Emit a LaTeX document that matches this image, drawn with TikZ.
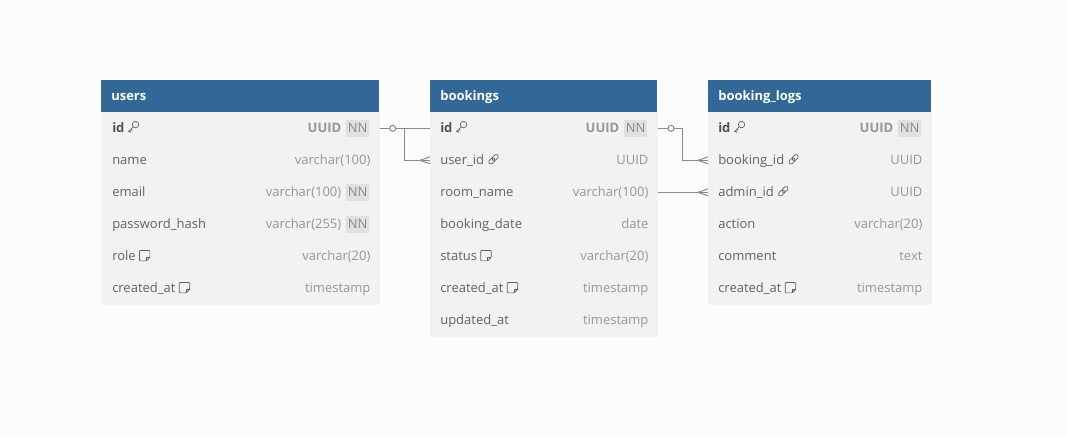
\documentclass[tikz,border=0pt]{standalone}
\usepackage{fontspec}
\setmainfont{Open Sans}
\usetikzlibrary{positioning}

\definecolor{pagebg}{RGB}{252,252,252}
\definecolor{headblue}{RGB}{49,104,151}
\definecolor{rowgray}{RGB}{242,242,242}
\definecolor{rowline}{RGB}{245,245,245}
\definecolor{namegray}{RGB}{98,98,98}
\definecolor{pkgray}{RGB}{80,80,80}
\definecolor{typegray}{RGB}{150,150,150}
\definecolor{badgegray}{RGB}{225,225,225}
\definecolor{nngray}{RGB}{135,135,135}
\definecolor{relgray}{RGB}{135,138,148}

% small column icons
\newcommand{\keyicon}{\hspace{2.5pt}\tikz[x=1.2pt,y=1.2pt,baseline=0pt]{
    \draw[namegray,line width=0.55pt] (5.2,5.2) circle (2.4pt);
    \draw[namegray,line width=0.55pt] (3.8,3.8) -- (0.6,0.6) (1.3,1.3) -- (2.3,0.3) (2.3,2.3) -- (3.1,1.5);}}
\newcommand{\linkicon}{\hspace{2.5pt}\tikz[x=1.2pt,y=1.2pt,baseline=0pt]{
    \begin{scope}[shift={(0.9,0.9)},rotate=45]
    \draw[namegray,line width=0.55pt,rounded corners=1.3pt] (0,-1.3) rectangle (4.4,1.3);
    \draw[namegray,line width=0.55pt,rounded corners=1.3pt] (3,-1.3) rectangle (7.4,1.3);
    \end{scope}}}
\newcommand{\noteicon}{\hspace{2.5pt}\tikz[x=1.15pt,y=1.15pt,baseline=0pt]{
    \draw[namegray,line width=0.55pt,rounded corners=0.6pt] (0,0) -- (0,6.8) -- (6.8,6.8) -- (6.8,2.3) -- (4.5,0) -- cycle;
    \draw[namegray,line width=0.55pt] (6.8,2.3) -- (4.5,2.3) -- (4.5,0);}}
\newcommand{\pkname}[1]{\textcolor{pkgray}{\bfseries #1}}

% crow's foot at a table edge
\newcommand{\crowfoot}[1]{
    \draw[rel] ([xshift=-7.5pt]#1) -- ([yshift=2.6pt]#1)
               ([xshift=-7.5pt]#1) -- ([yshift=-2.6pt]#1);}

\tikzset{
    headbox/.style={fill=headblue, minimum height=24pt, inner sep=0pt, anchor=north west},
    headtext/.style={anchor=base west, inner sep=0pt, text=white,
        font=\fontsize{9.75}{12}\selectfont\bfseries},
    rowcell/.style={fill=rowgray, draw=rowline, line width=0.5pt, minimum height=24pt,
        inner sep=0pt, anchor=north west},
    colname/.style={anchor=base west, inner sep=0pt, text=namegray,
        font=\fontsize{9.75}{12}\selectfont},
    coltype/.style={anchor=base east, inner sep=0pt, text=typegray,
        font=\fontsize{9.75}{12}\selectfont},
    nnbadge/.style={fill=badgegray, text=nngray, inner xsep=1.5pt, inner ysep=0pt,
        minimum height=12.75pt, anchor=east, font=\fontsize{9.75}{12}\selectfont},
    rel/.style={draw=relgray, line width=0.75pt},
    zeromark/.style={circle, draw=relgray, fill=pagebg, line width=0.75pt,
        inner sep=0pt, minimum size=4.5pt}
}

\begin{document}
\begin{tikzpicture}[x=0.75pt, y=-0.75pt]

    \useasboundingbox[fill=pagebg] (0,0) rectangle (1066,437);

    % users table
    \node[headbox, minimum width=208.5pt] (users) at (101,80) {};
    \node[headtext] at ([xshift=7.5pt, yshift=-3.4pt]users.west) {users};
    \foreach \n/\t/\nn [count=\i] in {{\pkname{id}\keyicon}/{\textbf{UUID}}/1,
            name/varchar(100)/0, email/varchar(100)/1, password\_hash/varchar(255)/1,
            {role\noteicon}/varchar(20)/0, {created\_at\noteicon}/timestamp/0} {
        \node[rowcell, minimum width=208.5pt] (users-\i) at (101,{112+32*(\i-1)}) {};
        \node[colname] at ([xshift=8.25pt, yshift=-3.4pt]users-\i.west) {\n};
        \ifnum\nn=1
            \node[nnbadge] (users-nn-\i) at ([xshift=-7.5pt]users-\i.east) {NN};
            \node[coltype] at ([xshift=-3pt]users-nn-\i.base west) {\t};
        \else
            \node[coltype] at ([xshift=-6.75pt, yshift=-3.4pt]users-\i.east) {\t};
        \fi
    }

    % bookings table
    \node[headbox, minimum width=170.25pt] (bookings) at (430,80) {};
    \node[headtext] at ([xshift=7.5pt, yshift=-3.4pt]bookings.west) {bookings};
    \foreach \n/\t/\nn [count=\i] in {{\pkname{id}\keyicon}/{\textbf{UUID}}/1,
            {user\_id\linkicon}/UUID/0, room\_name/varchar(100)/0, booking\_date/date/0,
            {status\noteicon}/varchar(20)/0, {created\_at\noteicon}/timestamp/0,
            updated\_at/timestamp/0} {
        \node[rowcell, minimum width=170.25pt] (bookings-\i) at (430,{112+32*(\i-1)}) {};
        \node[colname] at ([xshift=7.5pt, yshift=-3.4pt]bookings-\i.west) {\n};
        \ifnum\nn=1
            \node[nnbadge] (bookings-nn-\i) at ([xshift=-7.5pt]bookings-\i.east) {NN};
            \node[coltype] at ([xshift=-3pt]bookings-nn-\i.base west) {\t};
        \else
            \node[coltype] at ([xshift=-6.75pt, yshift=-3.4pt]bookings-\i.east) {\t};
        \fi
    }

    % booking_logs table
    \node[headbox, minimum width=167.25pt] (logs) at (708,80) {};
    \node[headtext] at ([xshift=7.5pt, yshift=-3.4pt]logs.west) {booking\_logs};
    \foreach \n/\t/\nn [count=\i] in {{\pkname{id}\keyicon}/{\textbf{UUID}}/1,
            {booking\_id\linkicon}/UUID/0, {admin\_id\linkicon}/UUID/0,
            action/varchar(20)/0, comment/text/0, {created\_at\noteicon}/timestamp/0} {
        \node[rowcell, minimum width=167.25pt] (logs-\i) at (708,{112+32*(\i-1)}) {};
        \node[colname] at ([xshift=7.5pt, yshift=-3.4pt]logs-\i.west) {\n};
        \ifnum\nn=1
            \node[nnbadge] (logs-nn-\i) at ([xshift=-7.5pt]logs-\i.east) {NN};
            \node[coltype] at ([xshift=-3pt]logs-nn-\i.base west) {\t};
        \else
            \node[coltype] at ([xshift=-6.75pt, yshift=-3.4pt]logs-\i.east) {\t};
        \fi
    }

    % users.id -- bookings
    \draw[rel] (users-1.east) -- (bookings-1.west);
    \draw[rel] (users-1.east) -- ++(25,0) |- (bookings-2.west);
    \node[zeromark] at ([xshift=9.75pt]users-1.east) {};
    \crowfoot{bookings-2.west}

    % bookings -- booking_logs
    \draw[rel] (bookings-1.east) -- ++(25,0) |- (logs-2.west);
    \node[zeromark] at ([xshift=10pt]bookings-1.east) {};
    \crowfoot{logs-2.west}
    \draw[rel] (bookings-3.east) -- (logs-3.west);
    \crowfoot{logs-3.west}

\end{tikzpicture}
\end{document}
